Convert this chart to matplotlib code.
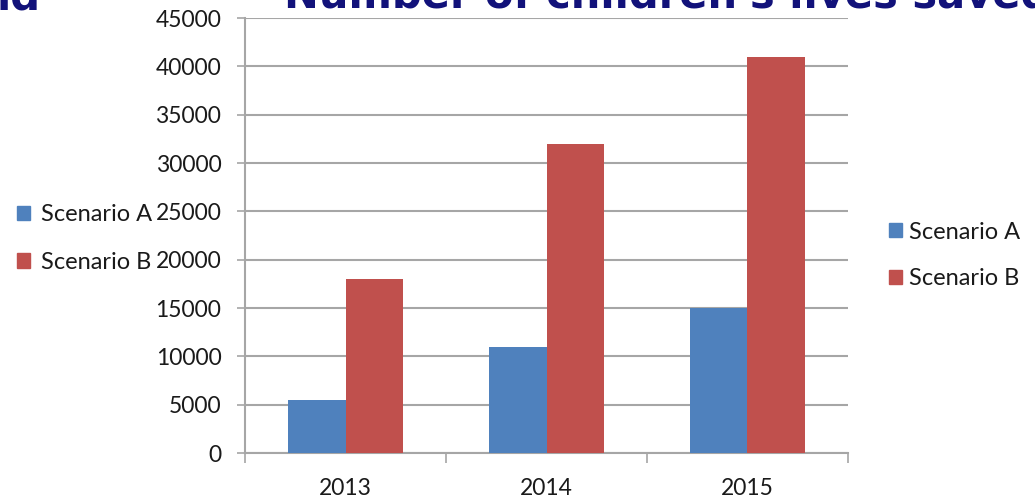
import numpy as np
import matplotlib.pyplot as plt
from matplotlib.patches import Patch

years = ['2013', '2014', '2015']
scenario_a = [5500, 11000, 15000]
scenario_b = [18000, 32000, 41000]
series_names = ['Scenario A', 'Scenario B']
title = "Number of children's lives saved"

blue = '#4F81BD'
red = '#C0504D'
grid_c = '#A6A6A6'

plt.rcParams['font.family'] = ['Lato', 'DejaVu Sans']

W, H = 1035, 501
fig = plt.figure(figsize=(W / 100, H / 100), dpi=100)
ax = fig.add_axes([245 / W, 1 - 453 / H, (848 - 245) / W, (453 - 18) / H])

x = np.arange(len(years))
bw = 0.285
ax.bar(x - bw / 2, scenario_a, bw, color=blue, zorder=3)
ax.bar(x + bw / 2, scenario_b, bw, color=red, zorder=3)

ax.set_xlim(-0.5, len(years) - 0.5)
ax.set_ylim(0, 45000)
ax.set_yticks(np.arange(0, 45001, 5000))
ax.yaxis.grid(True, color=grid_c, lw=1.5, zorder=0)
ax.set_axisbelow(True)

# category labels in the middle, tick marks on the boundaries
ax.set_xticks(x)
ax.set_xticklabels(years)
ax.set_xticks(np.arange(-0.5, len(years)), minor=True)
ax.tick_params(axis='x', which='major', length=0, pad=18, labelsize=16.5,
               labelcolor='#1a1a1a')
ax.tick_params(axis='x', which='minor', length=7, width=1.2, color=grid_c)
ax.tick_params(axis='y', length=6, width=1.2, color=grid_c, pad=11,
               labelsize=16.5, labelcolor='#1a1a1a')

for s in ['top', 'right']:
    ax.spines[s].set_visible(False)
for s in ['left', 'bottom']:
    ax.spines[s].set_color(grid_c)
    ax.spines[s].set_linewidth(1.5)

handles = [Patch(color=blue), Patch(color=red)]
leg_kw = dict(frameon=False, fontsize=17, handlelength=0.55, handleheight=0.55,
              borderpad=0, borderaxespad=0, loc='center left',
              labelcolor='#1a1a1a')
fig.legend(handles, series_names, bbox_to_anchor=(17 / W, 1 - 238.5 / H),
           handletextpad=0.47, labelspacing=1.14, **leg_kw)
fig.legend(handles, series_names, bbox_to_anchor=(889 / W, 1 - 255.5 / H),
           handletextpad=0.3, labelspacing=1.1, **leg_kw)

# header text cut off by the top edge of the slide
fig.text(284 / W, 1 - 8 / H, title, color='#12127A', fontsize=30,
         fontweight='bold', family='DejaVu Sans', va='baseline', ha='left')
fig.text(-3 / W, 1 - 10 / H, 'ld', color='#12127A', fontsize=30,
         fontweight='bold', family='DejaVu Sans', va='baseline', ha='left')

fig.savefig('out.png', dpi=100)
